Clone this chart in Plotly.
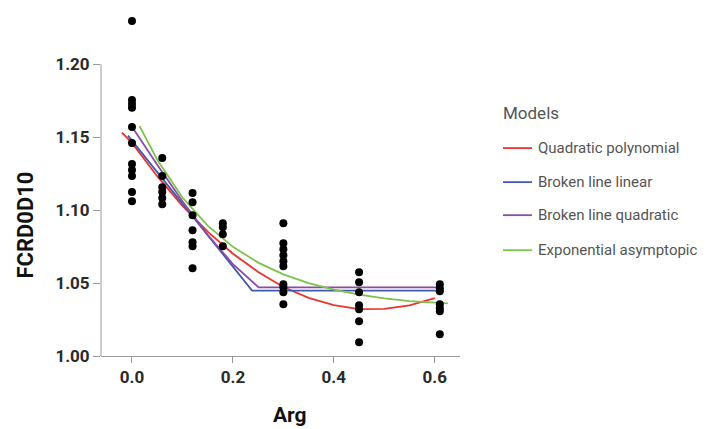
import plotly.graph_objects as go

arg_levels = [0.0, 0.06, 0.12, 0.18, 0.30, 0.45, 0.61]
obs_0_00 = [1.2296, 1.1754, 1.1727, 1.1700, 1.1569, 1.1459, 1.1315, 1.1274, 1.1233, 1.1123, 1.1061]
obs_0_06 = [1.1356, 1.1233, 1.1157, 1.1123, 1.1082, 1.1040]
obs_0_12 = [1.1116, 1.1054, 1.0965, 1.0862, 1.0780, 1.0752, 1.0602]
obs_0_18 = [1.0910, 1.0882, 1.0834, 1.0752]
obs_0_30 = [1.0910, 1.0773, 1.0732, 1.0691, 1.0650, 1.0615, 1.0492, 1.0471, 1.0437, 1.0355]
obs_0_45 = [1.0574, 1.0506, 1.0437, 1.0348, 1.0321, 1.0238, 1.0094]
obs_0_61 = [1.0492, 1.0464, 1.0444, 1.0355, 1.0327, 1.0307, 1.0149]
obs_groups = [obs_0_00, obs_0_06, obs_0_12, obs_0_18, obs_0_30, obs_0_45, obs_0_61]

# Model curves
quad_x = [-0.02, 0.0, 0.05, 0.10, 0.15, 0.20, 0.25, 0.30, 0.35, 0.40, 0.45, 0.50, 0.55, 0.60]
quad_y = [1.1530, 1.1460, 1.1232, 1.1029, 1.0852, 1.0701, 1.0576, 1.0473, 1.0398, 1.0349, 1.0321, 1.0323, 1.0347, 1.0396]

bll_x = [-0.008, 0.238, 0.61]
bll_y = [1.1510, 1.0448, 1.0448]

blq_x = [0.0, 0.05, 0.10, 0.15, 0.20, 0.251, 0.61]
blq_y = [1.1570, 1.1310, 1.1060, 1.0830, 1.0630, 1.0470, 1.0470]

exp_x = [0.015, 0.05, 0.10, 0.15, 0.20, 0.25, 0.30, 0.35, 0.40, 0.45, 0.50, 0.55, 0.626]
exp_y = [1.1575, 1.1345, 1.1086, 1.0893, 1.0748, 1.0640, 1.0559, 1.0499, 1.0454, 1.0420, 1.0395, 1.0376, 1.0360]

model_names = ["Quadratic polynomial", "Broken line linear", "Broken line quadratic", "Exponential asymptopic"]
model_colors = ["#E8352E", "#4259B0", "#8A4DA6", "#7DC24B"]
model_xs = [quad_x, bll_x, blq_x, exp_x]
model_ys = [quad_y, bll_y, blq_y, exp_y]
legend_title = "Models"

y_ticks = [1.00, 1.05, 1.10, 1.15, 1.20]
y_ticktext = ["1.00", "1.05", "1.10", "1.15", "1.20"]
x_ticks = [0.0, 0.2, 0.4, 0.6]
x_ticktext = ["0.0", "0.2", "0.4", "0.6"]

fig = go.Figure()

for name, col, xs, ys in zip(model_names, model_colors, model_xs, model_ys):
    fig.add_trace(go.Scatter(
        x=xs, y=ys, mode="lines", name=name,
        line=dict(color=col, width=1.8),
    ))

pts_x, pts_y = [], []
for lvl, grp in zip(arg_levels, obs_groups):
    for v in grp:
        pts_x.append(lvl)
        pts_y.append(v)

fig.add_trace(go.Scatter(
    x=pts_x, y=pts_y, mode="markers", name="Observed",
    marker=dict(color="black", size=8),
))

axis_col = "#9a9a9a"
tick_font = dict(family="Roboto", size=17, color="#2a2a2a", weight="bold")
legend_font = dict(family="Roboto", size=15, color="#555555")

# Hand-placed legend (keys + labels) to the right of the plot
legend_rows_y = [0.6061, 0.5069, 0.4106, 0.3084]
shapes = [
    dict(type="line", xref="paper", yref="y", x0=0, x1=0,
         y0=y_ticks[0], y1=y_ticks[-1],
         line=dict(color=axis_col, width=1), layer="below"),
]
annotations = [
    dict(text="FCRD0D10", xref="paper", yref="paper", x=-0.2107, y=0.3814,
         xanchor="center", yanchor="middle", textangle=-90, showarrow=False,
         font=dict(family="Roboto", size=22, color="#111111", weight="bold")),
    dict(text="Arg", xref="paper", yref="paper", x=0.527, y=-0.173,
         xanchor="center", yanchor="middle", showarrow=False,
         font=dict(family="Roboto", size=21, color="#111111", weight="bold")),
    dict(text=legend_title, xref="paper", yref="paper", x=1.1141, y=0.708,
         xanchor="left", yanchor="middle", showarrow=False,
         font=dict(family="Roboto", size=17, color="#555555")),
]
for name, col, ry in zip(model_names, model_colors, legend_rows_y):
    shapes.append(dict(type="line", xref="paper", yref="paper",
                       x0=1.1197, x1=1.2004, y0=ry, y1=ry,
                       line=dict(color=col, width=1.8)))
    annotations.append(dict(text=name, xref="paper", yref="paper", x=1.2115, y=ry,
                            xanchor="left", yanchor="middle", showarrow=False,
                            font=legend_font))

fig.update_layout(
    width=700, height=421,
    margin=dict(l=92.7, r=248, t=5, b=73.3, pad=0, autoexpand=False),
    paper_bgcolor="white", plot_bgcolor="white",
    showlegend=False,
    xaxis=dict(
        range=[-0.0614, 0.650],
        tickvals=x_ticks, ticktext=x_ticktext,
        showgrid=False, zeroline=False,
        showline=True, linecolor=axis_col, linewidth=1,
        ticks="outside", ticklen=6, tickcolor=axis_col,
        tickfont=tick_font,
    ),
    yaxis=dict(
        range=[1.0, 1.235],
        tickvals=y_ticks, ticktext=y_ticktext,
        showgrid=False, zeroline=False,
        showline=False,
        ticks="outside", ticklen=7, tickcolor=axis_col,
        tickfont=tick_font,
    ),
    shapes=shapes,
    annotations=annotations,
)

fig.write_html("out.html")
